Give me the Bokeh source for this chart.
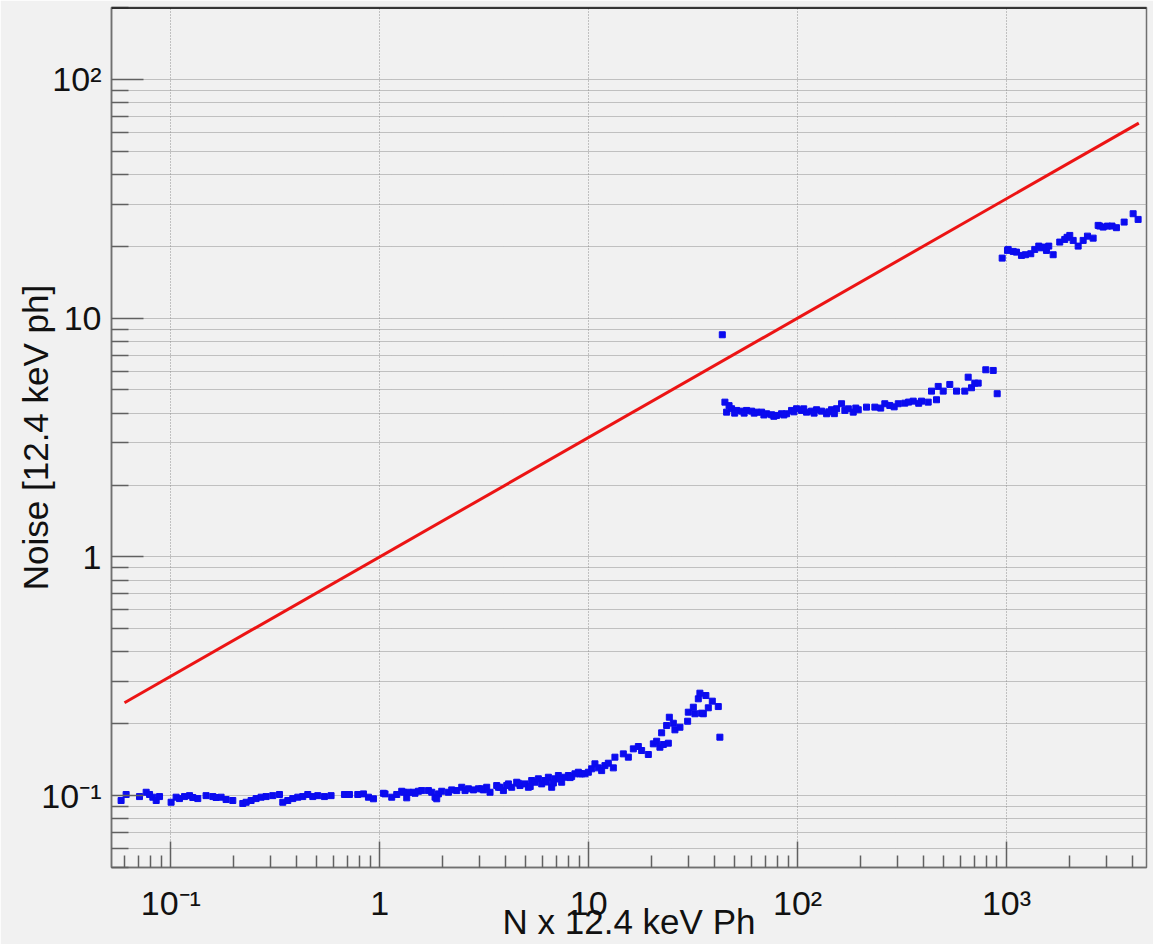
from bokeh.plotting import figure
from bokeh.models import Range1d, FixedTicker, Span
from bokeh.embed import file_html
from bokeh.resources import INLINE

# ---------------- data ----------------
# red reference line (Poisson limit)
red_n = [0.06, 4300.0]
red_noise = [0.245, 65.6]

# low-gain segment
low_n = [0.0578, 0.0611, 0.0708, 0.0762, 0.0791, 0.0820, 0.0851, 0.0883, 0.1003, 0.1060,
         0.1100, 0.1163, 0.1229, 0.1274, 0.1346, 0.1475, 0.1589, 0.1647, 0.1740, 0.1839,
         0.1980, 0.2211, 0.2293, 0.2422, 0.2559, 0.2705, 0.2858, 0.3076, 0.3312, 0.3435,
         0.3629, 0.3835, 0.4052, 0.4281, 0.4523, 0.4780, 0.5050, 0.5436, 0.5848, 0.6778,
         0.7161, 0.7849,
         0.8356, 0.8829, 0.9330, 1.0416, 1.1413, 1.2058, 1.2742, 1.3464, 1.3717, 1.4494,
         1.5316, 1.5886, 1.7102, 1.7738, 1.8395, 1.9098, 1.9805, 2.1320, 2.2110, 2.3363,
         2.4686, 2.5600, 2.6576, 2.8080, 2.9671, 3.1352, 3.2513, 3.3718, 3.6292, 3.7636,
         3.9075, 4.1288, 4.2818, 4.5242, 4.6917, 4.9573, 5.1470, 5.3376, 5.5356, 5.7458,
         5.9589, 6.1797, 6.4158, 6.6532, 6.9000, 7.1614, 7.4270, 7.7017, 7.9961, 8.2924,
         8.5979, 8.9264, 9.0863,
         1.060, 1.298, 1.475, 1.874, 3.076, 3.698, 4.053, 4.610, 5.25, 6.30, 6.78, 7.30,
         8.15, 9.26,
         9.601, 9.968, 10.337, 10.718, 11.127, 11.539, 11.967, 12.423, 13.126, 13.358,
         14.655, 15.488, 16.365, 17.291, 17.932, 19.307, 20.400, 21.156, 21.935, 22.773,
         24.064, 22.353, 23.621, 24.33, 25.43, 25.88, 27.35, 29.77, 29.99, 31.70,
         32.26, 33.49, 34.08, 35.39, 36.41, 37.39, 34.74, 39.07, 41.74, 42.48]
low_noise = [0.0954, 0.1011, 0.0991, 0.1033, 0.1011, 0.0985, 0.0954, 0.0991, 0.0938, 0.0985,
             0.0972, 0.0991, 0.1000, 0.0982, 0.0972, 0.1000, 0.0991, 0.0982, 0.0985, 0.0963,
             0.0954, 0.0927, 0.0938, 0.0954, 0.0972, 0.0985, 0.0991, 0.1000, 0.1011, 0.0938,
             0.0954, 0.0972, 0.0985, 0.0991, 0.1011, 0.0991, 0.1000, 0.0991, 0.1000, 0.1011,
             0.1011, 0.1011,
             0.1017, 0.0985, 0.0970, 0.1023, 0.0985, 0.1011, 0.1043, 0.0979, 0.1033, 0.1033,
             0.1043, 0.1050, 0.1050, 0.1033, 0.0985, 0.1017, 0.1043, 0.1033, 0.1057, 0.1050,
             0.1084, 0.1050, 0.1068, 0.1057, 0.1068, 0.1057, 0.1084, 0.1033, 0.1102, 0.1084,
             0.1050, 0.1120, 0.1084, 0.1138, 0.1102, 0.1120, 0.1084, 0.1157, 0.1138, 0.1176,
             0.1120, 0.1157, 0.1194, 0.1084, 0.1176, 0.1214, 0.1138, 0.1194, 0.1214, 0.1202,
             0.1234, 0.1253, 0.1234,
             0.1017, 0.1033, 0.1023, 0.0970, 0.1068, 0.1084, 0.1102, 0.1127, 0.1092, 0.1140,
             0.1130, 0.1176, 0.1190, 0.1234,
             0.1234, 0.1253, 0.1295, 0.1359, 0.1307, 0.1273, 0.1336, 0.1367, 0.1307, 0.1449,
             0.1496, 0.1449, 0.1570, 0.1606, 0.1545, 0.1487, 0.1648, 0.1690, 0.1595, 0.1637,
             0.1658, 0.1833, 0.1966, 0.2130, 0.2010, 0.1886, 0.1934, 0.2049, 0.2236, 0.2346,
             0.2202, 0.2544, 0.2686, 0.2202, 0.2626, 0.2333, 0.2215, 0.2487, 0.2361, 0.1757]

# mid-gain segment
mid_n = [43.62, 44.90, 45.75, 48.32, 51.06, 53.97, 57.02, 60.26, 63.67, 67.28, 71.09,
         75.11, 79.36, 83.84, 88.61, 93.61, 98.90, 104.5, 110.4, 116.7, 123.3,
         130.3, 137.7, 145.4, 153.7, 162.4, 168.4, 184.7, 195.2, 213.8, 234.4,
         261.6, 276.4, 303.3, 326.1, 357.8, 392.0, 422.0, 437.7, 462.5, 471.2,
         497.9, 535.5, 576.6, 631.7, 655.7, 680.0, 705.2, 732.1, 796.1, 864.0, 902.8,
         47.0, 50.0, 55.5, 62.0, 69.0, 77.0, 86.0, 96.0, 107.0, 120.0, 141.0, 150.0,
         175.0, 190.0, 250.0, 290.0, 340.0, 380.0]
mid_noise = [8.518, 4.447, 4.038, 4.173, 4.105, 4.077, 4.105, 4.077, 4.038, 4.038, 3.976,
             3.938, 3.912, 3.976, 3.976, 4.105, 4.173, 4.105, 4.038, 4.077, 4.133,
             4.077, 3.976, 4.133, 4.173, 4.379, 4.105, 4.038, 4.133, 4.238, 4.238,
             4.379, 4.308, 4.379, 4.404, 4.490, 4.490, 4.447, 4.946, 4.551, 5.175,
             4.946, 5.275, 4.946, 4.946, 5.658, 5.109, 5.342, 5.342, 6.077, 6.037, 4.823,
             4.30, 4.00, 4.00, 4.00, 3.93, 3.88, 3.93, 4.05, 4.17, 4.00, 4.05, 3.98,
             4.17, 4.20, 4.20, 4.25, 4.45, 4.40]

# high-gain segment
high_n = [953.7, 1011.0, 1018.8, 1076.6, 1116.3, 1179.6, 1232.7, 1307.0, 1365.8, 1427.3,
          1471.0, 1498.4, 1553.9, 1593.7, 1673.0, 1798.7, 1900.6, 1950.0, 2009.2, 2085.6,
          2203.6, 2328.3, 2441.3, 2599.3, 2747.2, 2795.0, 2902.6, 3043.6, 3200.0, 3360.1,
          3658.2, 4039.1, 4267.1]
high_noise = [17.84, 19.22, 19.40, 19.03, 18.90, 18.31, 18.43, 18.61, 19.40, 20.03,
              19.70, 19.84, 19.21, 20.03, 18.43, 20.82, 21.36, 21.80, 22.20, 21.16,
              20.03, 21.16, 22.05, 21.63, 24.46, 24.30, 24.06, 24.29, 24.30, 23.92,
              25.25, 27.37, 25.91]

# axis ticks and labels
x_tick_values = [0.1, 1, 10, 100, 1000]
x_tick_labels = ["10\u207b\u00b9", "1", "10", "10\u00b2", "10\u00b3"]
y_tick_values = [0.1, 1, 10, 100]
y_tick_labels = ["10\u207b\u00b9", "1", "10", "10\u00b2"]
x_title = "N x 12.4 keV Ph"
y_title = "Noise [12.4 keV ph]"

# ---------------- figure ----------------
BG = "#f1f1f1"
FONT = "Liberation Sans"
x_lo, x_hi = 0.052, 4680.0
y_lo, y_hi = 0.05, 200.0

p = figure(width=1153, height=944, x_axis_type="log", y_axis_type="log",
           x_range=Range1d(x_lo, x_hi), y_range=Range1d(y_lo, y_hi),
           output_backend="svg", toolbar_location=None,
           min_border_left=111, min_border_right=7, min_border_top=7,
           min_border_bottom=77)
p.background_fill_color = BG
p.border_fill_color = BG
p.outline_line_color = "#707070"
p.outline_line_width = 1.5


def minor_list(lo, hi):
    out = []
    for e in range(-3, 5):
        for k in range(2, 10):
            v = k * 10.0 ** e
            if lo <= v <= hi:
                out.append(v)
    return out


p.xaxis.ticker = FixedTicker(ticks=x_tick_values, minor_ticks=minor_list(x_lo, x_hi))
p.yaxis.ticker = FixedTicker(ticks=y_tick_values, minor_ticks=minor_list(y_lo, y_hi))
p.xaxis.major_label_overrides = dict(zip(x_tick_values, x_tick_labels))
p.yaxis.major_label_overrides = dict(zip(y_tick_values, y_tick_labels))

for ax in (p.xaxis, p.yaxis):
    ax.axis_line_color = "#707070"
    ax.axis_line_width = 1.5
    ax.major_tick_line_color = "#606060"
    ax.minor_tick_line_color = "#606060"
    ax.major_tick_line_width = 1.5
    ax.minor_tick_line_width = 1.5
    ax.major_tick_out = 0
    ax.minor_tick_out = 0
    ax.major_label_text_font = FONT
    ax.major_label_text_font_size = "34px"
    ax.major_label_text_color = "#111111"
    ax.axis_label_text_font = FONT
    ax.axis_label_text_font_size = "35px"
    ax.axis_label_text_font_style = "normal"
    ax.axis_label_text_color = "#111111"

p.xaxis.axis_label = x_title
p.yaxis.axis_label = y_title

p.xaxis.major_tick_in = 26
p.xaxis.minor_tick_in = 12
p.xaxis.major_label_standoff = 16
p.xaxis.axis_label_standoff = -23
p.yaxis.major_tick_in = 32
p.yaxis.minor_tick_in = 17
p.yaxis.major_label_standoff = 10
p.yaxis.axis_label_standoff = -17

p.xgrid.grid_line_color = "#8f8f8f"
p.xgrid.grid_line_dash = "1 2"
p.xgrid.grid_line_width = 1
p.ygrid.grid_line_color = "#8f8f8f"
p.ygrid.grid_line_dash = "1 1"
p.ygrid.grid_line_width = 1
p.ygrid.minor_grid_line_color = "#8f8f8f"
p.ygrid.minor_grid_line_dash = "1 1"
p.ygrid.minor_grid_line_width = 1

p.add_layout(Span(location=y_hi, dimension="width", line_color="black", line_width=2.5))

p.line(red_n, red_noise, line_color="#ec1414", line_width=3)
for xs, ys in ((low_n, low_noise), (mid_n, mid_noise), (high_n, high_noise)):
    p.scatter(xs, ys, marker="square", size=6, fill_color="#0b0bef",
              line_color="#0b0bef")

open("out.html", "w").write(file_html(p, INLINE))
